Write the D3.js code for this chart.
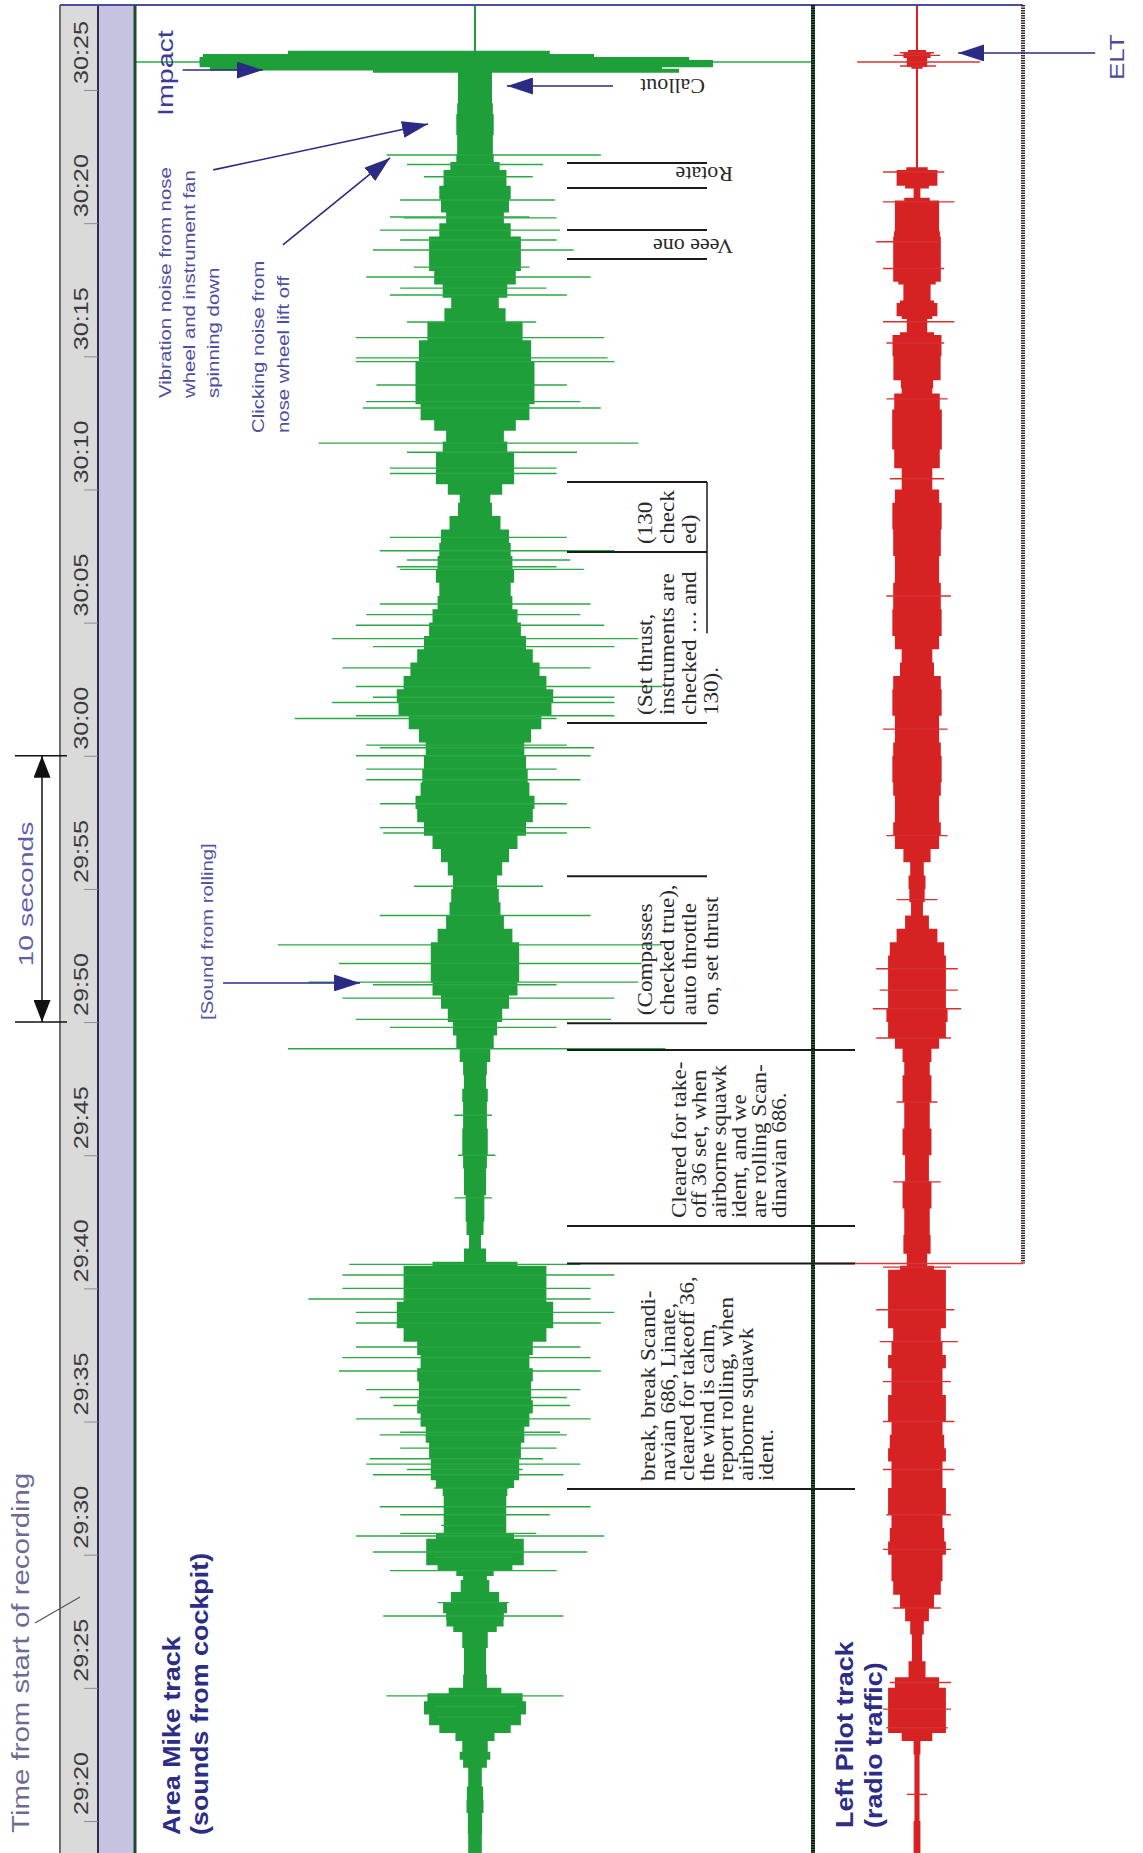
<!DOCTYPE html>
<html>
<head>
<meta charset="utf-8">
<script src="https://cdn.jsdelivr.net/npm/d3@7"></script>
<style>
  html, body { margin: 0; padding: 0; background: #fff; }
  svg { display: block; }
</style>
</head>
<body>
<svg id="chart" width="1143" height="1853"></svg>
<script>
// ---------------------------------------------------------------------------
// Data: time is seconds after 29:00 on the recorder clock.
// Amplitudes are in track units, where 100 is the edge of a track panel.
// ---------------------------------------------------------------------------
const tickSeconds = [20, 25, 30, 35, 40, 45, 50, 55, 60, 65, 70, 75, 80, 85];
const tickLabels  = ["29:20", "29:25", "29:30", "29:35", "29:40", "29:45", "29:50",
                     "29:55", "30:00", "30:05", "30:10", "30:15", "30:20", "30:25"];

// Envelope of the cockpit area microphone: [time, half-width]
const areaMikeEnvelope = [
  [18.8, 2], [19.5, 2], [20.3, 2.2], [20.8, 2.8], [21.3, 2], [22, 2], [22.3, 5], [22.6, 4],
  [23.0, 3.5], [23.3, 8], [23.6, 13], [24, 14], [24.5, 16], [24.8, 12], [25, 3.5], [25.5, 3.5],
  [26, 3], [26.5, 3.5], [27.1, 4], [27.3, 8.8], [27.55, 8], [27.8, 9], [28.2, 9.8], [28.6, 4.4],
  [29.05, 4], [29.2, 3], [29.4, 8], [29.6, 14], [30.1, 14.7], [30.6, 14], [30.8, 9], [31.5, 9.4],
  [32.2, 9], [32.5, 10], [32.8, 13], [33.6, 13], [34.2, 14], [34.8, 15], [35.3, 17], [35.8, 17],
  [36.5, 16], [37, 18], [37.5, 14], [38, 20], [38.5, 22], [39, 24], [39.5, 22], [40, 20],
  [40.5, 22], [40.85, 20], [41, 5], [41.5, 1.5], [42, 2], [42.5, 3], [43, 2.5], [43.5, 3],
  [44, 3.5], [44.5, 3], [45, 4], [45.5, 3.5], [46, 4], [46.5, 3], [47, 4], [47.5, 3.5],
  [48, 3], [48.5, 4], [49, 5], [49.5, 6], [50, 7], [50.5, 9], [51, 11], [51.5, 14],
  [52, 12], [52.5, 14], [53, 12], [53.5, 10], [54, 7], [54.5, 8], [55, 6], [55.5, 7],
  [56, 9], [56.5, 11], [57, 14], [57.5, 16], [58, 18], [58.5, 17], [59, 15], [59.5, 16],
  [60, 14], [60.5, 15], [61, 18], [61.5, 21], [62, 24], [62.5, 22], [63, 20], [63.5, 18],
  [64, 16], [64.5, 14], [65, 13], [65.5, 12], [66, 10], [66.5, 11], [67, 12], [67.5, 10],
  [68, 11], [68.5, 9], [69, 6], [69.5, 4], [69.8, 5], [70.2, 11], [70.8, 12], [71.4, 11],
  [71.8, 8], [72.2, 9], [72.6, 15], [73.2, 17], [74, 18], [74.8, 17], [75.6, 16], [76.3, 12],
  [76.8, 6], [77.2, 8], [77.7, 11], [78.2, 13], [78.9, 14], [79.5, 13], [80.0, 8], [80.4, 9],
  [80.9, 11], [81.4, 10], [82.0, 8.5], [82.3, 6], [82.6, 5], [82.9, 5.5], [83.3, 5], [83.7, 6],
  [84.1, 5], [84.5, 5.5], [84.9, 4.5], [85.3, 5.5], [85.7, 4.5], [86.0, 5], [86.4, 0.3], [88.3, 0.3]
];

// Envelope of the left pilot (radio) channel: [time, half-width]
const leftPilotEnvelope = [
  [18.8, 0.5], [19.5, 1.5], [20, 0.5], [20.5, 1], [21, 0.5], [21.5, 1], [22, 0.5], [22.5, 1],
  [23, 1], [23.3, 8], [24, 9], [24.5, 8], [25, 9], [25.4, 4], [26, 1], [26.5, 2],
  [27, 1], [27.5, 3], [28, 4], [28.5, 6], [29, 8], [29.5, 7], [30, 8], [30.5, 9],
  [31, 7], [31.5, 8], [32, 9], [32.5, 8], [33, 7], [33.5, 8], [34, 9], [34.5, 7],
  [35, 8], [35.5, 9], [36, 8], [36.5, 7], [37, 8], [37.5, 9], [38, 6], [38.5, 8],
  [39, 9], [39.5, 8], [40, 9], [40.7, 8], [40.85, 2], [41.3, 4], [42, 4], [42.5, 3.5],
  [43, 4], [43.5, 4.5], [44, 4], [44.5, 3], [45, 4], [45.5, 4.5], [46, 4], [46.5, 3.5],
  [47, 4], [47.5, 4.5], [48, 4], [48.5, 3.5], [49, 5], [49.4, 8], [50, 9], [50.5, 9],
  [51, 8], [51.5, 9], [52, 8], [52.5, 9], [53, 7], [53.5, 5], [54, 2], [54.5, 1.5],
  [55, 3], [55.5, 2], [56, 2], [56.5, 6], [57, 7], [57.5, 7], [58, 6], [58.5, 7],
  [59, 7], [59.5, 7.5], [60, 7], [60.5, 7], [61, 6], [61.5, 7], [62, 7.5], [62.5, 7],
  [63, 7], [63.5, 3], [64, 6], [64.5, 7], [65, 7.5], [65.5, 7], [66, 7], [66.5, 7],
  [67, 6], [67.5, 7], [68, 7], [68.5, 7], [69, 7.5], [69.5, 7], [70, 6], [70.4, 3],
  [70.8, 6], [71.5, 7.4], [72, 7.2], [73, 7.4], [73.6, 6], [73.8, 3], [74.1, 6.5], [75, 7.4],
  [75.8, 7], [75.9, 3], [76.4, 3], [76.5, 6], [77.0, 6], [77.1, 4], [77.7, 4], [77.8, 7],
  [79.5, 7], [79.7, 6.5], [80.85, 6.5], [80.95, 1], [81.3, 1], [81.4, 6], [82.0, 6], [82.1, 0.3],
  [85.8, 0.3], [85.86, 3], [86.2, 3], [86.43, 5], [86.5, 0.3], [88.3, 0.3]
];

// Individual peaks: [time, lowest value, highest value]
const areaMikePeaks = [
  [86.05, -100, 100],
  [82.56, -26, 37], [82.2, -20, 20], [81.74, -15, 17], [80.87, -22, 23.5], [80.23, -25, 16],
  [80.2, -21, 24], [79.74, -28, 25], [79.37, -22, 24], [78.99, -30, 29], [78.35, -18, 16],
  [77.98, -32, 34], [77.56, -22, 21], [77.3, -25, 27], [76.29, -20, 18], [75.7, -35, 38],
  [74.94, -35, 39], [74.8, -35, 41], [73.92, -29, 27], [73.3, -32, 31], [73.06, -33, 37],
  [71.74, -46, 48], [71.4, -20, 30], [70.8, -25, 24], [70.6, -25, 24], [68.2, -25, 27],
  [67.7, -28, 41], [67.35, -20, 28], [67.1, -23, 24], [67.0, -22, 32], [65.7, -28, 34],
  [65.3, -32, 31], [64.9, -35, 38], [64.4, -42, 48], [64.1, -30, 41], [63.3, -39, 34],
  [62.6, -35, 55], [62.2, -30, 41], [62.0, -42, 41], [61.5, -35, 41], [61.4, -53, 24],
  [60.4, -32, 27], [60.3, -28, 35], [60.0, -35, 34], [59.5, -32, 24], [59.1, -32, 31],
  [58.2, -28, 27], [57.3, -28, 34], [57.1, -27, 27], [55.1, -18, 20], [54.0, -28, 34],
  [52.9, -58, 55], [52.2, -40, 49], [51.5, -49, 48], [51.4, -30, 24], [50.9, -39, 41],
  [50.1, -35, 40], [49.8, -25, 24], [49.0, -55, 56], [46.5, -6, 5], [45.0, -5, 6],
  [43.4, -6, 5], [40.9, -37, 31], [40.5, -39, 41], [40.0, -39, 34], [39.6, -49, 34],
  [39.1, -35, 41], [38.7, -35, 37], [37.8, -35, 31], [37.4, -39, 34], [36.9, -40, 37],
  [36.2, -32, 31], [35.9, -28, 27], [35.6, -24, 28], [35.1, -35, 34], [34.6, -22, 25],
  [34.5, -28, 27], [34.0, -22, 24], [33.6, -31, 20], [33.4, -32, 31], [33.2, -20, 14],
  [33.0, -30, 26], [32.5, -12, 10], [31.8, -28, 34], [31.5, -22, 22], [31.1, -10, 9],
  [30.8, -22, 18], [30.7, -35, 38], [30.1, -30, 33], [29.9, -12, 11], [29.4, -25, 24],
  [28.2, -11, 10], [27.7, -27, 26], [24.7, -26, 26], [24.3, -12, 12], [23.9, -11, 11]
];
// The impact itself: [time, lowest value, highest value]
const impactRows = [
  [86.40, -55, 22], [86.28, -80, 35], [86.16, -81, 63], [86.05, -81, 70],
  [85.93, -81, 70], [85.81, -78, 55], [85.72, -30, 60]
];
const leftPilotPeaks = [
  [86.05, -17.6, 18.5], [86.3, -6.8, 6.8], [86.4, -5, 5], [85.9, -5, 5.6], [81.92, -10, 8],
  [80.8, -10, 11], [79.3, -12, 7], [78.3, -10, 8], [76.3, -10, 11], [75.5, -9, 8],
  [73.4, -9, 9], [70.4, -8, 8], [66.0, -9, 10], [61.0, -10, 9], [57.0, -9, 9],
  [54.6, -6, 6], [52, -12, 12], [51.2, -11, 12], [50.5, -13, 13], [49.4, -12, 10],
  [47.0, -6, 6], [44.0, -7, 7], [40.8, -10, 10], [39.2, -12, 11], [38, -11, 12],
  [36.5, -10, 10], [35, -10, 11], [33.2, -10, 11], [31.5, -9, 10], [30.2, -10, 10],
  [28, -7, 7], [25.2, -8, 10], [24.2, -10, 10], [23.5, -9, 9], [21.0, -3, 3]
];

// Transcript marks
const shortCallouts = [
  { from: 81.32, to: 82.26, text: "Rotate" },
  { from: 78.65, to: 79.74, text: "Veee one" }
];
const cockpitLines = [
  { from: 67.65, to: 70.28, lines: ["(130", "check", "ed)"] },
  { from: 61.23, to: 67.65, lines: ["(Set thrust,", "instruments are", "checked \u2026 and", "130)."] },
  { from: 49.96, to: 55.48, lines: ["(Compasses", "checked true),", "auto throttle", "on, set thrust"] }
];
const radioLines = [
  { from: 42.34, to: 48.95, lines: ["Cleared for take-", "off 36 set, when", "airborne squawk",
                                    "ident, and we", "are rolling Scan-", "dinavian 686."] },
  { from: 32.47, to: 40.93, lines: ["break, break Scandi-", "navian 686, Linate,",
                                    "cleared for takeoff 36,", "the wind is calm,",
                                    "report rolling, when", "airborne squawk", "ident."] }
];

// Pointer arrows: [time, value] at tail and head
const pointers = [
  { track: "mike",  from: [85.75, -86], to: [85.75, -62.4] },   // Impact
  { track: "mike",  from: [85.15, 40.6], to: [85.15, 9.4] },    // Callout
  { track: "mike",  from: [82.0, -77], to: [83.72, -13.8] },     // Vibration noise
  { track: "mike",  from: [79.18, -56.5], to: [82.45, -25] },    // Clicking noise
  { track: "mike",  from: [51.47, -74.1], to: [51.47, -33.8] },  // Sound from rolling
  { track: "pilot", from: [86.39, 52.4], to: [86.39, 12.1] }     // ELT
];

// ---------------------------------------------------------------------------
// Layout
// ---------------------------------------------------------------------------
const W = 1143, H = 1853;
const svg = d3.select("#chart");

const y = d3.scaleLinear().domain([20, 85]).range([1821, 90]);
const topY = 5;

const mikeX  = d3.scaleLinear().domain([-100, 100]).range([135, 815]);
const pilotX = d3.scaleLinear().domain([-100, 100]).range([577, 1257]);
const trackX = { mike: mikeX, pilot: pilotX };

const stripL = 60, stripR = 98, bandR = 135, divider = 813, pilotR = 1023;

const GREEN = "#1f9f39", RED = "#d62222", NAVY = "#2b2b86", INK = "#2a2a2a";
const SANS = "'Liberation Sans', Arial, sans-serif";
const SERIF = "'Liberation Serif', 'Times New Roman', serif";

const defs = svg.append("defs");
function arrowMarker(id, color, len, wid, orient) {
  defs.append("marker")
    .attr("id", id).attr("markerUnits", "userSpaceOnUse")
    .attr("markerWidth", len).attr("markerHeight", wid)
    .attr("refX", len).attr("refY", wid / 2)
    .attr("orient", orient)
    .append("path")
    .attr("d", `M0,0 L${len},${wid / 2} L0,${wid} Z`)
    .attr("fill", color);
}
arrowMarker("navyHead", NAVY, 26, 17, "auto");
arrowMarker("blackHead", "#111", 22, 17, "auto-start-reverse");

defs.append("clipPath").attr("id", "mikeClip")
  .append("rect").attr("x", bandR).attr("y", topY).attr("width", divider - bandR).attr("height", H);
defs.append("clipPath").attr("id", "pilotClip")
  .append("rect").attr("x", divider).attr("y", topY).attr("width", pilotR - divider).attr("height", H);

// Rotated text block; lines advance along the screen x axis
function rotText(parent, x, yy, lines, o) {
  const t = parent.append("text")
    .attr("transform", `translate(${x},${yy}) rotate(${o.rot ?? -90}) scale(${o.sx ?? 1},1)`)
    .attr("font-family", o.family)
    .attr("font-size", o.size)
    .attr("font-weight", o.weight || "normal")
    .attr("fill", o.fill)
    .attr("text-anchor", o.anchor || "start");
  lines.forEach((s, i) => t.append("tspan").attr("x", 0).attr("y", i * (o.lh || 0)).text(s));
  return t;
}

// ---------------------------------------------------------------------------
// Time strip
// ---------------------------------------------------------------------------
svg.append("rect").attr("x", stripL).attr("y", topY).attr("width", stripR - stripL)
  .attr("height", H - topY).attr("fill", "#dadada");
svg.append("rect").attr("x", stripR).attr("y", topY).attr("width", bandR - stripR)
  .attr("height", H - topY).attr("fill", "#c6c3e0");
svg.append("line").attr("x1", stripL).attr("x2", stripL).attr("y1", topY).attr("y2", H)
  .attr("stroke", "#6f6f6f").attr("stroke-width", 2);
svg.append("line").attr("x1", stripR).attr("x2", stripR).attr("y1", topY).attr("y2", H)
  .attr("stroke", "#2c2c4e").attr("stroke-width", 2);

const axis = d3.axisLeft(y).tickValues(tickSeconds).tickSize(14).tickFormat("");
const axisG = svg.append("g").attr("transform", `translate(${stripR},0)`).call(axis);
axisG.select(".domain").remove();
axisG.selectAll(".tick line").attr("stroke", "#8d8d8d").attr("stroke-width", 1);

tickSeconds.forEach((t, i) => {
  rotText(svg, 88, y(t) - 6, [tickLabels[i]],
    { family: SANS, size: 21, sx: 1.2, fill: "#3a3a3a" });
});

// ---------------------------------------------------------------------------
// Track panels
// ---------------------------------------------------------------------------
function drawTrack(xs, env, peaks, color, hair, clipId) {
  const g = svg.append("g").attr("clip-path", `url(#${clipId})`);
  const area = d3.area()
    .y(d => y(d[0]))
    .x0(d => xs(-d[1]))
    .x1(d => xs(d[1]))
    .curve(d3.curveStep);
  g.append("path").datum(env).attr("d", area).attr("fill", color);
  g.selectAll("line.peak").data(peaks).join("line").attr("class", "peak")
    .attr("x1", d => xs(d[1])).attr("x2", d => xs(d[2]))
    .attr("y1", d => y(d[0])).attr("y2", d => y(d[0]))
    .attr("stroke", hair).attr("stroke-width", 1.4);
  return g;
}

// Centre traces
svg.append("line").attr("x1", mikeX(0)).attr("x2", mikeX(0))
  .attr("y1", topY).attr("y2", y(86.4))
  .attr("stroke", "#2f5d39").attr("stroke-width", 1);
svg.append("line").attr("x1", pilotX(0)).attr("x2", pilotX(0))
  .attr("y1", topY).attr("y2", H)
  .attr("stroke", "#d84848").attr("stroke-width", 1.2);

const mikeG = drawTrack(mikeX, areaMikeEnvelope, areaMikePeaks, GREEN, "#2aa845", "mikeClip");
mikeG.selectAll("line.impact").data(impactRows).join("line").attr("class", "impact")
  .attr("x1", d => mikeX(d[1])).attr("x2", d => mikeX(d[2]))
  .attr("y1", d => y(d[0])).attr("y2", d => y(d[0]))
  .attr("stroke", GREEN).attr("stroke-width", 4);
drawTrack(pilotX, leftPilotEnvelope, leftPilotPeaks, RED, "#d83030", "pilotClip");

// Panel frames
svg.append("line").attr("x1", stripL).attr("x2", pilotR).attr("y1", topY).attr("y2", topY)
  .attr("stroke", "#4d4d9e").attr("stroke-width", 2);
svg.append("line").attr("x1", bandR).attr("x2", bandR).attr("y1", topY).attr("y2", H)
  .attr("stroke", "#1f4a2c").attr("stroke-width", 3);
svg.append("line").attr("x1", divider).attr("x2", divider).attr("y1", topY).attr("y2", H)
  .attr("stroke", "#2c7a3c").attr("stroke-width", 4);
svg.append("line").attr("x1", divider).attr("x2", divider).attr("y1", topY).attr("y2", H)
  .attr("stroke", "#111").attr("stroke-width", 4).attr("stroke-dasharray", "1.5,1");
const radioEnd = y(radioLines[1].to);
svg.append("line").attr("x1", pilotR).attr("x2", pilotR).attr("y1", topY).attr("y2", radioEnd)
  .attr("stroke", "#3a2a2a").attr("stroke-width", 4).attr("stroke-dasharray", "1.5,1");
svg.append("line").attr("x1", divider).attr("x2", pilotR).attr("y1", radioEnd).attr("y2", radioEnd)
  .attr("stroke", "#d43a3a").attr("stroke-width", 1.5);

// ---------------------------------------------------------------------------
// Transcript
// ---------------------------------------------------------------------------
const noteG = svg.append("g");
function bracket(t, x1, x2) {
  noteG.append("line").attr("x1", x1).attr("x2", x2).attr("y1", y(t)).attr("y2", y(t))
    .attr("stroke", "#1a1a1a").attr("stroke-width", 2);
}
shortCallouts.forEach(n => {
  bracket(n.from, 567, 707);
  bracket(n.to, 567, 707);
});
rotText(noteG, 733, y(shortCallouts[0].to) + 4, [shortCallouts[0].text],
  { family: SERIF, size: 22, rot: 180, fill: INK });
rotText(noteG, 733, y(shortCallouts[1].to) + 9, [shortCallouts[1].text],
  { family: SERIF, size: 22, rot: 180, fill: INK });
rotText(noteG, 705, y(85.15) - 7, ["Callout"],
  { family: SERIF, size: 22, rot: 180, fill: INK });

cockpitLines.forEach(n => {
  bracket(n.from, 567, 707);
  bracket(n.to, 567, 707);
  rotText(noteG, 652, y(n.from) - 8, n.lines,
    { family: SERIF, size: 21, sx: 1.1, lh: 22, fill: INK });
});
noteG.append("line").attr("x1", 707).attr("x2", 707)
  .attr("y1", y(cockpitLines[0].to)).attr("y2", y(64.6))
  .attr("stroke", "#1a1a1a").attr("stroke-width", 1.5);

const radioCol = [686, 655], radioLh = [20, 19.6];
radioLines.forEach((n, i) => {
  bracket(n.from, 567, 855);
  bracket(n.to, 567, 855);
  rotText(noteG, radioCol[i], y(n.from) - 8, n.lines,
    { family: SERIF, size: 21, sx: 1.1, lh: radioLh[i], fill: INK });
});

// ---------------------------------------------------------------------------
// Pointers and labels
// ---------------------------------------------------------------------------
pointers.forEach(p => {
  const xs = trackX[p.track];
  svg.append("line")
    .attr("x1", xs(p.from[1])).attr("y1", y(p.from[0]))
    .attr("x2", xs(p.to[1])).attr("y2", y(p.to[0]))
    .attr("stroke", NAVY).attr("stroke-width", 1.6)
    .attr("marker-end", "url(#navyHead)");
});

rotText(svg, 173, 116, ["Impact"], { family: SANS, size: 22, sx: 1.3, fill: "#3c3c96" });
rotText(svg, 171, 398, ["Vibration noise from nose", "wheel and instrument fan", "spinning down"],
  { family: SANS, size: 17, sx: 1.2, lh: 24, fill: "#4f4fa0" });
rotText(svg, 264, 433, ["Clicking noise from", "nose wheel lift off"],
  { family: SANS, size: 17, sx: 1.2, lh: 25, fill: "#4f4fa0" });
rotText(svg, 213, 1020, ["[Sound from rolling]"],
  { family: SANS, size: 17, sx: 1.2, fill: "#5555a6" });
rotText(svg, 1124, 80, ["ELT"], { family: SANS, size: 20, sx: 1.3, fill: "#4a4a9c" });

rotText(svg, 180, 1835, ["Area Mike track", "(sounds from cockpit)"],
  { family: SANS, size: 24, weight: "bold", sx: 1.12, lh: 28, fill: "#2d2d86" });
rotText(svg, 853, 1828, ["Left Pilot track", "(radio traffic)"],
  { family: SANS, size: 24, weight: "bold", sx: 1.12, lh: 29, fill: "#2d2d86" });

rotText(svg, 29, 1833, ["Time from start of recording"],
  { family: SANS, size: 23, sx: 1.28, fill: "#6c6c92" });
svg.append("line").attr("x1", 35).attr("y1", 1623).attr("x2", 80).attr("y2", 1597)
  .attr("stroke", "#555").attr("stroke-width", 1.2);

// Ten-second span marker between 29:50 and 30:00
const spanTop = y(60), spanBot = y(50);
[spanTop, spanBot].forEach(v => svg.append("line")
  .attr("x1", 15).attr("x2", 67).attr("y1", v).attr("y2", v)
  .attr("stroke", "#111").attr("stroke-width", 1.5));
svg.append("line").attr("x1", 42).attr("x2", 42).attr("y1", spanTop).attr("y2", spanBot)
  .attr("stroke", "#111").attr("stroke-width", 1.5)
  .attr("marker-start", "url(#blackHead)").attr("marker-end", "url(#blackHead)");
rotText(svg, 33, (spanTop + spanBot) / 2 + 5, ["10 seconds"],
  { family: SANS, size: 21, sx: 1.35, fill: "#5f5fa8", anchor: "middle" });
</script>
</body>
</html>
